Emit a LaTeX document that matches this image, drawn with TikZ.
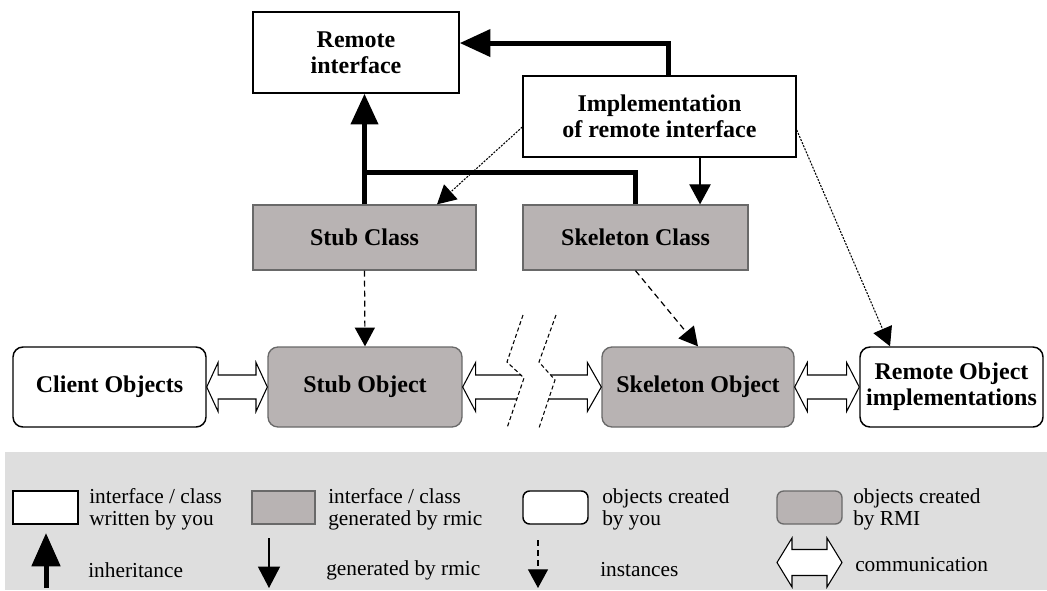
\documentclass[tikz,border=0pt]{standalone}
\usepackage{fontspec}
\setmainfont{Liberation Serif}
\usetikzlibrary{arrows.meta,calc}
\definecolor{boxgray}{RGB}{184,179,179}
\definecolor{boxedge}{RGB}{105,105,105}
\definecolor{legendbg}{RGB}{222,222,222}

% double-headed "communication" arrow between two points:
% #1,#2 end points, #3 head length, #4 half body width, #5 half head width
\newcommand\commlink[5]{%
  \draw[comm] let \p1=(#1), \p2=(#2) in
    (\x1,\y1) -- (\x1+#3,\y1+#5) -- (\x1+#3,\y1+#4) -- (\x2-#3,\y1+#4)
    -- (\x2-#3,\y1+#5) -- (\x2,\y1) -- (\x2-#3,\y1-#5) -- (\x2-#3,\y1-#4)
    -- (\x1+#3,\y1-#4) -- (\x1+#3,\y1-#5) -- cycle;}

\begin{document}
\begin{tikzpicture}[x=0.75pt,y=-0.75pt,
  boxfont/.style={font=\fontsize{18}{19.5}\selectfont\bfseries, align=center},
  legfont/.style={font=\fontsize{16}{16.5}\selectfont, align=left, inner sep=0pt, anchor=west},
  userclass/.style={draw=black, line width=1.1pt, fill=white, boxfont, inner sep=2pt},
  genclass/.style={draw=boxedge, line width=1pt, fill=boxgray, boxfont, inner sep=2pt},
  userobj/.style={userclass, rounded corners=7.5pt},
  genobj/.style={genclass, rounded corners=7.5pt},
  inherit/.style={line width=3.75pt, -{Triangle[length=23pt,width=20pt]}},
  inheritline/.style={line width=3.75pt},
  genarrow/.style={line width=0.9pt, -{Triangle[length=15pt,width=16pt]}},
  instarrow/.style={line width=0.9pt, dash pattern=on 4.5pt off 3pt, -{Triangle[length=14pt,width=15pt]}},
  dotarrow/.style={line width=0.8pt, dash pattern=on 1.5pt off 1pt, -{Triangle[length=14pt,width=15pt]}},
  comm/.style={draw=black, line width=0.8pt, fill=white, line join=miter},
  halfcomm/.style={draw=black, line width=0.8pt, line join=miter},
  breakline/.style={line width=0.8pt, dash pattern=on 3pt off 2pt},
  legbox/.style={minimum width=48.75pt, minimum height=24.75pt, inner sep=0pt}
]
\useasboundingbox (0,0) rectangle (1047,590);

% ---------- classes ----------
\node[userclass, minimum width=154.5pt, minimum height=60.75pt] (remote) at (356,52.5) {Remote\\interface};
\node[userclass, minimum width=204.75pt, minimum height=60.75pt] (impl) at (659.5,116.5) {Implementation\\of remote interface};
\node[genclass, minimum width=167.25pt, minimum height=48.75pt] (stubc) at (364.5,237.5) {Stub Class};
\node[genclass, minimum width=168.75pt, minimum height=48.75pt] (skelc) at (635.5,237.5) {Skeleton Class};

% ---------- objects ----------
\node[userobj, minimum width=144.75pt, minimum height=60pt] (client) at (109.5,387) {Client Objects};
\node[genobj, minimum width=145.5pt, minimum height=60pt] (stubo) at (365,387) {Stub Object};
\node[genobj, minimum width=144pt, minimum height=60pt] (skelo) at (698,387) {Skeleton Object};
\node[userobj, minimum width=137.25pt, minimum height=60pt] (remoteo) at (951.5,387) {Remote Object\\implementations};

% ---------- inheritance ----------
\coordinate (junc) at ([yshift=24pt]stubc.north);
\draw[inherit] ([xshift=6.4pt]impl.north) |- ([yshift=7.1pt]remote.east);
\draw[inherit] (stubc.north) -- (stubc.north |- remote.south);
\draw[inheritline] (skelc.north) |- (junc);

% ---------- generated by rmic ----------
\draw[genarrow] ([xshift=30.4pt]impl.south) -- ([xshift=30.4pt]impl.south |- skelc.north);
\draw[dotarrow] ([yshift=-7.9pt]impl.west) -- ([xshift=54.4pt]stubc.north);
\draw[dotarrow] ([yshift=-10.1pt]impl.east) -- ([xshift=-46.1pt]remoteo.north);

% ---------- instances ----------
\draw[instarrow] (stubc.south) -- (stubo.north);
\draw[instarrow] (skelc.south) -- (skelo.north);

% ---------- communication ----------
\commlink{client.east}{stubo.west}{8.5pt}{9pt}{18.4pt}
\commlink{skelo.east}{remoteo.west}{9.5pt}{9pt}{18.4pt}

% broken link across the network
\coordinate (b1a) at (523,315); \coordinate (b1b) at (507,362);
\coordinate (b1c) at (524,378); \coordinate (b1d) at (507,428);
\coordinate (b2a) at (556,315); \coordinate (b2b) at (539,362);
\coordinate (b2c) at (555,380); \coordinate (b2d) at (539,428);
\draw[halfcomm] let \p1=(stubo.east) in
  (521,375) -- (\x1+9.75pt,\y1+9pt) -- (\x1+9.75pt,\y1+18.4pt) -- (\x1,\y1)
  -- (\x1+9.75pt,\y1-18.4pt) -- (\x1+9.75pt,\y1-9pt) -- (517,399);
\draw[halfcomm] let \p1=(skelo.west) in
  (551,375) -- (\x1-10.5pt,\y1+9pt) -- (\x1-10.5pt,\y1+18.4pt) -- (\x1,\y1)
  -- (\x1-10.5pt,\y1-18.4pt) -- (\x1-10.5pt,\y1-9pt) -- (549,399);
\draw[breakline] (b1a) -- (b1b) -- (b1c) -- (b1d);
\draw[breakline] (b2a) -- (b2b) -- (b2c) -- (b2d);

% ---------- legend ----------
\fill[legendbg] (5,452) rectangle (1047,590);
\node[legbox, draw=black, line width=1.1pt, fill=white] (lk1) at (45.5,507.5) {};
\node[legbox, draw=boxedge, line width=1pt, fill=boxgray, minimum width=47.25pt] (lk2) at (283.5,507.5) {};
\node[legbox, draw=black, line width=1.1pt, fill=white, rounded corners=5pt] (lk3) at (555.5,507.5) {};
\node[legbox, draw=boxedge, line width=1pt, fill=boxgray, rounded corners=5pt] (lk4) at (809.5,507.5) {};
\node[legfont] (lt1) at (89,509) {interface / class\\written by you};
\node[legfont] (lt2) at (328,509) {interface / class\\generated by rmic};
\node[legfont] (lt3) at (602,509) {objects created\\by you};
\node[legfont] (lt4) at (853,509) {objects created\\by RMI};

\coordinate (li1) at (46,588); \coordinate (li2) at (46,533);
\coordinate (lg1) at (269,538); \coordinate (lg2) at (269,588);
\coordinate (ln1) at (538,540); \coordinate (ln2) at (538,588);
\coordinate (lc1) at (777,562.5); \coordinate (lc2) at (842,562.5);
\draw[line width=3.75pt, -{Triangle[length=25pt,width=21pt]}] (li1) -- (li2);
\draw[line width=0.9pt, -{Triangle[length=16pt,width=16.5pt]}] (lg1) -- (lg2);
\draw[instarrow] (ln1) -- (ln2);
\commlink{lc1}{lc2}{11.25pt}{9.75pt}{18.4pt}
\node[legfont] (lt5) at (88,570) {inheritance};
\node[legfont] (lt6) at (326,570) {generated by rmic};
\node[legfont] (lt7) at (600,570) {instances};
\node[legfont] (lt8) at (855,565) {communication};
\end{tikzpicture}
\end{document}
